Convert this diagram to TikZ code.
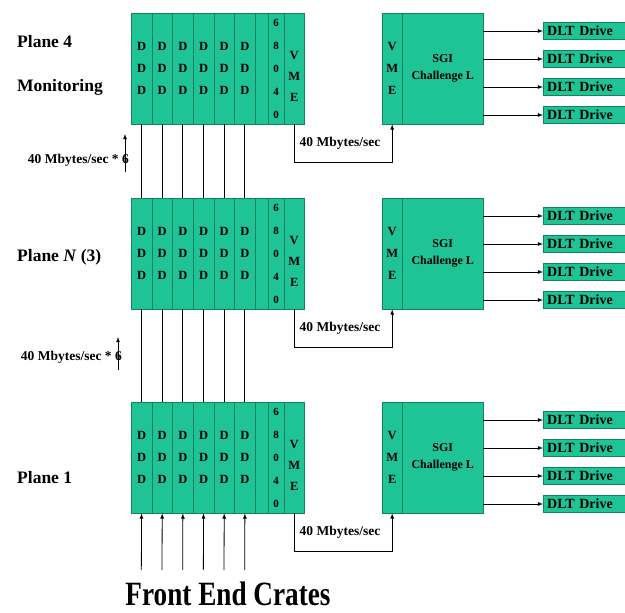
\documentclass[tikz,border=0pt]{standalone}
\usepackage{fontspec}
\setmainfont{Liberation Serif}
\newfontfamily\condensed[FakeStretch=0.8]{Liberation Serif}
\usetikzlibrary{arrows, positioning}
\definecolor{crate}{RGB}{30,196,150}
\definecolor{crateline}{RGB}{18,130,95}
\tikzset{
  col/.style={draw=crateline, fill=crate, anchor=north west, minimum height=111pt,
    inner sep=0pt, align=center, font=\bfseries\fontsize{12.5}{22}\selectfont},
  coltext/.style={align=center, inner sep=0pt, font=\bfseries\fontsize{12.5}{21}\selectfont},
  drive/.style={draw=crateline, fill=crate, anchor=west, minimum height=17pt,
    text width=78pt, inner xsep=4pt, inner ysep=0pt, align=left,
    font=\bfseries\fontsize{14}{15}\selectfont},
  lbl/.style={anchor=west, inner sep=0pt, font=\bfseries\fontsize{17.5}{20}\selectfont},
  rate/.style={inner sep=0pt, font=\bfseries\fontsize{13.5}{15}\selectfont},
  wire/.style={line width=0.8pt},
  link/.style={line width=0.8pt, -latex}
}

\begin{document}
\begin{tikzpicture}[x=1pt, y=-1pt]
  \useasboundingbox (0,0) rectangle (625,613);

  % one readout plane per row: crate, SGI and four drives
  \foreach \p/\ty in {4/13, N/198, 1/402} {
    \foreach \k in {1,...,6}
      \node[col, minimum width=20.67pt] (p\p d\k) at ({131+(\k-1)*20.67},\ty) {D\\D\\D};
    \node[col, minimum width=13pt] (p\p gap) at (255,\ty) {};
    \node[col, minimum width=16pt, font=\bfseries\fontsize{11}{23}\selectfont]
      (p\p cpu) at (268,\ty) {6\\8\\0\\4\\0};
    \node[col, minimum width=20pt, label={[coltext, yshift=-8pt]center:{V\\M\\E}}]
      (p\p vme) at (284,\ty) {};

    \node[col, minimum width=20pt] (s\p vme) at (382,\ty) {V\\M\\E};
    \node[col, minimum width=81pt, font=\bfseries\fontsize{12}{17}\selectfont]
      (s\p main) at (402,\ty) {SGI\\Challenge L};

    \draw[link] (p\p vme.south) -- ++(0,38) -| (s\p vme.south);
    \node[rate] (r\p) at (340,{\ty+130}) {40 Mbytes/sec};

    \foreach \j in {1,...,4} {
      \node[drive] (d\p\j) at (543,{\ty+18+(\j-1)*28}) {DLT Drive};
      \draw[link] (s\p main.east |- d\p\j.west) -- (d\p\j.west);
    }
  }

  % data lines between the planes
  \foreach \k in {1,...,6} {
    \draw[wire] (p4d\k.south) -- (pNd\k.north);
    \draw[wire] (pNd\k.south) -- (p1d\k.north);
    \coordinate (fe\k) at ({131+(\k-0.5)*20.67},570);
    \draw[link] (fe\k) -- (p1d\k.south);
  }

  \node[lbl] (plane4) at (17,42) {Plane 4};
  \node[lbl] (monitor) at (17,87) {Monitoring};
  \node[lbl] (planeN) at (17,257) {Plane \textit{N} (3)};
  \node[lbl] (plane1) at (17,478) {Plane 1};

  \coordinate (up4a) at (125,172);
  \coordinate (up4b) at (125,134);
  \draw[link] (up4a) -- (up4b);
  \node[rate, anchor=east] (rate4) at (129,160) {40 Mbytes/sec * 6};

  \coordinate (upNa) at (118,370);
  \coordinate (upNb) at (118,337);
  \draw[link] (upNa) -- (upNb);
  \node[rate, anchor=east] (rateN) at (122,357) {40 Mbytes/sec * 6};

  \node[font=\condensed\bfseries\fontsize{34}{36}\selectfont] (fec) at (228,594) {Front End Crates};
\end{tikzpicture}
\end{document}
